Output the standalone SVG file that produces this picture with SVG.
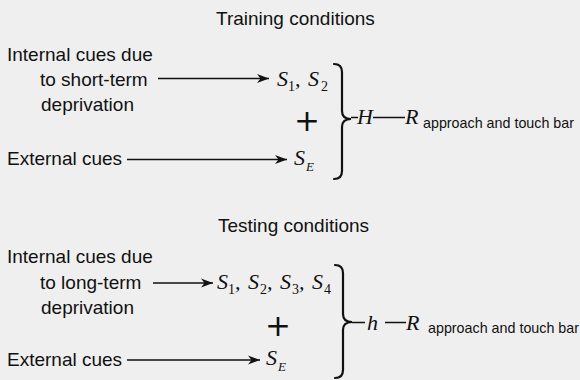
<svg xmlns="http://www.w3.org/2000/svg" width="580" height="380" viewBox="0 0 580 380">
  <defs>
    <style>
      .lbl { font-family: "Liberation Sans", Arial, sans-serif; font-size: 19px; fill: #111111; }
      .sub { font-family: "Liberation Sans", Arial, sans-serif; font-size: 14.3px; fill: #111111; }
      .sym { font-family: "Liberation Serif", "Times New Roman", serif; font-style: italic; font-size: 22px; fill: #111111; }
      .idx { font-family: "Liberation Serif", "Times New Roman", serif; font-size: 14px; fill: #111111; }
      .idxi { font-family: "Liberation Serif", "Times New Roman", serif; font-style: italic; font-size: 13px; fill: #111111; }
      .plus { font-family: "DejaVu Sans", sans-serif; font-size: 31px; fill: #111111; text-anchor: middle; }
      .arrow { stroke: #111111; stroke-width: 1.5; fill: none; marker-end: url(#head); }
      .rule { stroke: #111111; stroke-width: 1.5; fill: none; }
      .brace { stroke: #111111; stroke-width: 2.2; fill: none; stroke-linecap: round; }
    </style>
    <marker id="head" markerUnits="userSpaceOnUse" markerWidth="14" markerHeight="12" viewBox="-13 -6 14 12" refX="0" refY="0" orient="auto">
      <path d="M0,0 L-12,-4.5 L-8.5,0 L-12,4.5 Z" fill="#111111"/>
    </marker>
  </defs>

  <rect width="580" height="380" fill="#efefef"/>

  <!-- Training conditions -->
  <text class="lbl" x="216" y="25">Training conditions</text>

  <g id="internal-short">
    <text class="lbl" x="7" y="61">Internal cues due</text>
    <text class="lbl" x="40" y="86">to short-term</text>
    <text class="lbl" x="41" y="111">deprivation</text>
  </g>

  <g id="s1-s2">
    <text class="sym" x="277" y="86">S</text>
    <text class="idx" x="288" y="91">1</text>
    <text class="sym" x="295" y="86" font-style="normal">,</text>
    <text class="sym" x="308" y="86">S</text>
    <text class="idx" x="321" y="91">2</text>
  </g>

  <text class="plus" x="307" y="131">+</text>

  <g id="external-train">
    <text class="lbl" x="7" y="165">External cues</text>
  </g>

  <g id="se-train">
    <text class="sym" x="294" y="165">S</text>
    <text class="idxi" x="306" y="171">E</text>
  </g>

  <g id="habit-train">
    <text class="sym" x="357" y="124">H</text>
  </g>

  <g id="response-train">
    <text class="sym" x="405" y="124">R</text>
    <text class="sub" x="423" y="128">approach and touch bar</text>
  </g>

  <!-- Testing conditions -->
  <text class="lbl" x="218" y="232">Testing conditions</text>

  <g id="internal-long">
    <text class="lbl" x="7" y="263">Internal cues due</text>
    <text class="lbl" x="40" y="289">to long-term</text>
    <text class="lbl" x="41" y="314">deprivation</text>
  </g>

  <g id="s1-s4">
    <text class="sym" x="217" y="289">S</text>
    <text class="idx" x="228" y="294">1</text>
    <text class="sym" x="235" y="289" font-style="normal">,</text>
    <text class="sym" x="248" y="289">S</text>
    <text class="idx" x="260" y="294">2</text>
    <text class="sym" x="267" y="289" font-style="normal">,</text>
    <text class="sym" x="280" y="289">S</text>
    <text class="idx" x="292" y="294">3</text>
    <text class="sym" x="299" y="289" font-style="normal">,</text>
    <text class="sym" x="312" y="289">S</text>
    <text class="idx" x="324" y="294">4</text>
  </g>

  <text class="plus" x="278" y="336">+</text>

  <g id="external-test">
    <text class="lbl" x="7" y="366">External cues</text>
  </g>

  <g id="se-test">
    <text class="sym" x="266" y="365">S</text>
    <text class="idxi" x="278" y="371">E</text>
  </g>

  <g id="habit-test">
    <text class="sym" x="367" y="330">h</text>
  </g>

  <g id="response-test">
    <text class="sym" x="406" y="330">R</text>
    <text class="sub" x="428" y="333">approach and touch bar</text>
  </g>

  <!-- Connectors -->
  <g id="connectors">
    <line class="arrow" x1="158" y1="78.5" x2="269" y2="78.5"/>
    <line class="arrow" x1="127" y1="159.5" x2="287" y2="159.5"/>
    <path class="brace" d="M334,64 Q342,64 342,72 L342,111 Q342,119 351,119 Q342,119 342,127 L342,171 Q342,179 334,179"/>
    <line class="rule" x1="351" y1="117.5" x2="358" y2="117.5"/>
    <line class="rule" x1="373" y1="117.5" x2="405" y2="117.5"/>

    <line class="arrow" x1="153" y1="283" x2="213" y2="283"/>
    <line class="arrow" x1="127" y1="360" x2="260" y2="360"/>
    <path class="brace" d="M335,265 Q343,265 343,273 L343,314 Q343,322 352,322 Q343,322 343,330 L343,370 Q343,378 335,378"/>
    <line class="rule" x1="352" y1="322.5" x2="365" y2="322.5"/>
    <line class="rule" x1="385" y1="322.5" x2="406" y2="322.5"/>
  </g>
</svg>
